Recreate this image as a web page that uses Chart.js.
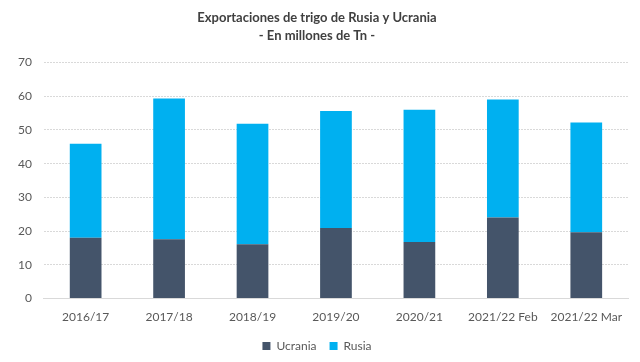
<!DOCTYPE html>
<html>
<head>
<meta charset="utf-8">
<script src="https://cdn.jsdelivr.net/npm/chart.js@4/dist/chart.umd.min.js"></script>
<style>
  html, body { margin: 0; padding: 0; background: #fff; }
  #wrap { width: 640px; height: 362px; }
</style>
</head>
<body>
<div id="wrap"><canvas id="chart"></canvas></div>
<script>
// Exportaciones de trigo (millones de Tn)
const categories = ["2016/17", "2017/18", "2018/19", "2019/20", "2020/21", "2021/22 Feb", "2021/22 Mar"];
const ucrania = [18.0, 17.6, 16.1, 20.9, 16.8, 24.0, 19.7];
const rusia = [27.9, 41.7, 35.7, 34.7, 39.2, 35.0, 32.5];
const yTicks = [0, 10, 20, 30, 40, 50, 60, 70];

const font = "Lato, 'Open Sans', sans-serif";

new Chart(document.getElementById("chart"), {
  type: "bar",
  data: {
    labels: categories,
    datasets: [
      { label: "Ucrania", data: ucrania, backgroundColor: "#44546a" },
      { label: "Rusia", data: rusia, backgroundColor: "#00b0f0" },
    ],
  },
  options: {
    responsive: true,
    maintainAspectRatio: false,
    animation: false,
    layout: { padding: { left: 6, right: 12, top: 5, bottom: 0 } },
    datasets: { bar: { categoryPercentage: 1, barPercentage: 0.38 } },
    plugins: {
      title: {
        display: true,
        text: ["Exportaciones de trigo de Rusia y Ucrania", "- En millones de Tn -"],
        color: "#404040",
        font: { family: font, size: 13, weight: "bold", lineHeight: 1.4 },
        padding: { top: 4, bottom: 17 },
      },
      legend: {
        position: "bottom",
        labels: {
          color: "#595959",
          font: { family: font, size: 12 },
          boxWidth: 8,
          boxHeight: 8,
          padding: 13,
        },
      },
      tooltip: { enabled: false },
    },
    scales: {
      x: {
        stacked: true,
        grid: { display: false },
        border: { color: "#d9d9d9" },
        ticks: { color: "#595959", font: { family: font, size: 12 }, maxRotation: 0 },
      },
      y: {
        stacked: true,
        min: 0,
        max: 70,
        afterBuildTicks: (axis) => { axis.ticks = yTicks.map((v) => ({ value: v })); },
        grid: { color: "#d9d9d9", drawTicks: false },
        border: { display: false, dash: [2, 1] },
        ticks: { color: "#595959", font: { family: font, size: 12 }, padding: 12 },
      },
    },
  },
});
</script>
</body>
</html>
